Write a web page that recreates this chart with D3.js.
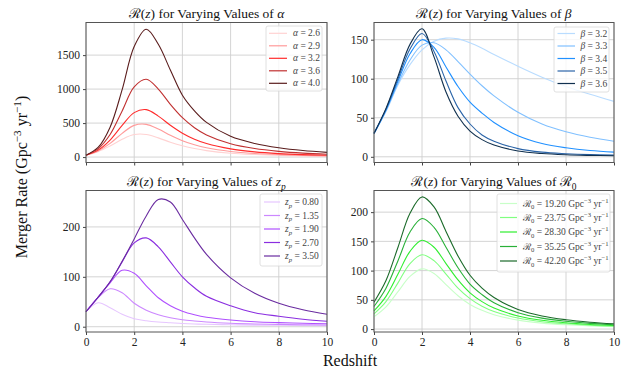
<!DOCTYPE html>
<html>
<head>
<meta charset="utf-8">
<script src="https://cdn.jsdelivr.net/npm/d3@7"></script>
<style>
  body { margin: 0; background: #fff; }
</style>
</head>
<body>
<svg id="chart" width="634" height="372"></svg>
<script>
// redshift grid the values were read at
const redshift = [0, 0.5, 1, 1.5, 2, 2.5, 3, 3.5, 4, 4.5, 5, 6, 7, 8, 9, 10];
const zTicks = [0, 2, 4, 6, 8, 10];

// panel 1: varying alpha
const alphaLabels = ["2.6", "2.9", "3.2", "3.6", "4.0"];
const alphaRates = [
  [28, 80, 163, 262, 331, 332, 282, 219, 166, 125, 95, 57, 37, 24, 17, 12],
  [28, 90, 202, 349, 466, 481, 412, 321, 241, 181, 137, 83, 53, 36, 25, 18],
  [28, 102, 250, 465, 654, 698, 602, 468, 351, 263, 199, 120, 76, 51, 36, 26],
  [28, 120, 331, 679, 1032, 1144, 1000, 775, 579, 432, 326, 196, 125, 84, 58, 42],
  [28, 141, 440, 992, 1626, 1880, 1659, 1281, 910, 680, 510, 305, 200, 137, 96, 69]
];
const alphaTicks = [0, 500, 1000, 1500];

// panel 2: varying beta
const betaLabels = ["3.2", "3.3", "3.4", "3.5", "3.6"];
const betaRates = [
  [30, 58, 92, 118, 137, 148, 152, 151, 146, 139, 131, 116, 102, 90, 80, 71],
  [30, 59, 94, 124, 143, 146, 137, 122, 106, 91, 78, 57, 42, 32, 25, 20],
  [30, 60, 97, 132, 150, 140, 115, 90, 70, 56, 44, 27, 17, 11.5, 8, 6],
  [30, 61, 100, 138, 158, 135, 97, 63, 42, 28, 20, 10.5, 6, 4, 2.8, 2.2],
  [30, 62, 103, 144, 164, 128, 83, 52, 33, 22, 15, 7.5, 4.2, 2.6, 1.8, 1.3]
];
const betaTicks = [0, 50, 100, 150];

// panel 3: varying z_p
const zpLabels = ["0.80", "1.35", "1.90", "2.70", "3.50"];
const zpRates = [
  [30, 48, 38, 25, 16, 12, 9.5, 8, 6.5, 5.5, 4.8, 3.8, 3.2, 2.8, 2.5, 2.2],
  [30, 58, 76, 68, 47, 33, 24, 18, 14, 11.5, 9.5, 7, 5.5, 4.6, 4, 3.5],
  [30, 59, 88, 113, 107, 82, 58, 42, 31, 24, 19, 13.5, 10, 8.2, 7, 6],
  [30, 59, 90, 130, 168, 178, 160, 130, 100, 78, 61, 42, 28, 21, 15, 11],
  [30, 59, 90, 131, 176, 222, 255, 250, 215, 178, 145, 98, 67, 47, 34, 25]
];
const zpTicks = [0, 100, 200];

// panel 4: varying R0
const r0Labels = ["19.20", "23.75", "28.30", "35.25", "42.20"];
const r0Rates = [
  [21, 38, 64, 90, 103, 95, 76, 57, 42, 32, 24.4, 15.3, 10.2, 7.3, 5.4, 4.1],
  [26, 47, 79, 112, 127, 117, 94, 70, 52, 39, 30, 18.9, 12.6, 9, 6.6, 5],
  [31, 56, 94, 133, 152, 140, 112, 84, 62, 47, 36, 22.5, 15, 10.7, 7.9, 6],
  [38.6, 70, 117, 166, 189, 174, 140, 105, 77, 59, 45, 28, 18.7, 13.3, 9.8, 7.5],
  [46, 83, 140, 198, 226, 209, 167, 125, 92, 70, 54, 33.5, 22.4, 16, 11.8, 9]
];
const r0Ticks = [0, 50, 100, 150, 200];

const reds = ["#ffd2d2", "#ff9a9a", "#ff2b2b", "#c03030", "#5a1c1c"];
const blues = ["#b9dcff", "#80c0ff", "#2090ff", "#2a64a8", "#10304f"];
const purples = ["#e6c6ff", "#cc88ff", "#b050ff", "#8a2ee0", "#6a2ca0"];
const greens = ["#c8ffc8", "#80ff80", "#30ee30", "#28b038", "#1b6a2a"];

const SERIF = "'Liberation Serif', 'Times New Roman', 'DejaVu Serif', serif";

const svg = d3.select("#chart");

// text with italic / sub / superscript pieces
function rich(text, segs, fs) {
  let shift = 0;
  segs.forEach(s => {
    const target = s.sub ? 0.3 * fs : s.sup ? -0.4 * fs : 0;
    const ts = text.append("tspan").text(s.t);
    if (target !== shift) ts.attr("dy", target - shift);
    shift = target;
    if (s.i) ts.style("font-style", "italic");
    if (s.sub || s.sup) ts.style("font-size", (fs * 0.7) + "px");
  });
}

function serifText(sel, fs) {
  return sel.style("font-family", SERIF).style("font-size", fs + "px");
}

const titleStart = [{t: "ℛ"}, {t: "("}, {t: "z", i: 1}, {t: ") for Varying Values of "}];

const panels = [
  {x: [86, 327], y: [22.5, 162.5], yDomain: [-80, 1980], yTicks: alphaTicks, rates: alphaRates,
   colors: reds, xLabels: false,
   title: titleStart.concat([{t: "α", i: 1}]),
   legend: {x: 266, y: 26, w: 56, h: 65, rows: [33.3, 45.8, 58.3, 70.8, 83.3], lx: [269, 287], tx: 293},
   label: v => [{t: "α", i: 1}, {t: " = " + v}], names: alphaLabels},
  {x: [374, 614], y: [22.5, 162.5], yDomain: [-7.3, 172], yTicks: betaTicks, rates: betaRates,
   colors: blues, xLabels: false,
   title: titleStart.concat([{t: "β", i: 1}]),
   legend: {x: 554, y: 27, w: 55, h: 65, rows: [33.5, 46, 58.5, 71, 83.5], lx: [557.5, 575], tx: 580.5},
   label: v => [{t: "β", i: 1}, {t: " = " + v}], names: betaLabels},
  {x: [86, 327], y: [190.5, 332], yDomain: [-10.6, 273], yTicks: zpTicks, rates: zpRates,
   colors: purples, xLabels: true,
   title: titleStart.concat([{t: "z", i: 1}, {t: "p", i: 1, sub: 1}]),
   legend: {x: 260, y: 194, w: 62, h: 72, rows: [202, 215.5, 229, 242.5, 256], lx: [264, 280], tx: 285},
   label: v => [{t: "z", i: 1}, {t: "p", i: 1, sub: 1}, {t: " = " + v}], names: zpLabels},
  {x: [374, 614], y: [190.5, 332], yDomain: [-5, 237], yTicks: r0Ticks, rates: r0Rates,
   colors: greens, xLabels: true,
   title: titleStart.concat([{t: "ℛ"}, {t: "0", sub: 1}]),
   legend: {x: 497, y: 194, w: 113, h: 78, rows: [203.5, 217.5, 232, 246.5, 261], lx: [500, 517], tx: 523},
   label: v => [{t: "ℛ"}, {t: "0", sub: 1}, {t: " = " + v + " Gpc"}, {t: "−3", sup: 1}, {t: " yr"}, {t: "−1", sup: 1}],
   names: r0Labels}
];

panels.forEach(p => {
  const sx = d3.scaleLinear().domain([0, 10]).range(p.x);
  const sy = d3.scaleLinear().domain(p.yDomain).range([p.y[1], p.y[0]]);
  const g = svg.append("g");

  // grid
  g.selectAll(".gx").data(zTicks).enter().append("line")
    .attr("x1", d => sx(d)).attr("x2", d => sx(d))
    .attr("y1", p.y[0]).attr("y2", p.y[1])
    .attr("stroke", "#cfcfcf").attr("stroke-width", 0.9);
  g.selectAll(".gy").data(p.yTicks).enter().append("line")
    .attr("x1", p.x[0]).attr("x2", p.x[1])
    .attr("y1", d => sy(d)).attr("y2", d => sy(d))
    .attr("stroke", "#cfcfcf").attr("stroke-width", 0.9);

  // axes
  const yAxis = d3.axisLeft(sy).tickValues(p.yTicks).tickSize(3).tickPadding(3).tickFormat(d3.format("d"));
  const yg = g.append("g").attr("transform", "translate(" + p.x[0] + ",0)").call(yAxis);
  const xAxis = d3.axisBottom(sx).tickValues(zTicks).tickSize(3).tickPadding(3)
    .tickFormat(p.xLabels ? d3.format("d") : "");
  const xg = g.append("g").attr("transform", "translate(0," + p.y[1] + ")").call(xAxis);
  [yg, xg].forEach(a => {
    a.attr("font-family", null).attr("font-size", null);
    a.select(".domain").remove();
    a.selectAll("line").attr("stroke", "#444");
    serifText(a.selectAll("text"), 11.5).attr("fill", "#222");
  });

  // curves
  const line = d3.line()
    .x((d, i) => sx(redshift[i]))
    .y(d => sy(d))
    .curve(d3.curveCatmullRom.alpha(0.5));
  g.selectAll(".curve").data(p.rates).enter().append("path")
    .attr("d", line)
    .attr("fill", "none")
    .attr("stroke", (d, i) => p.colors[i])
    .attr("stroke-width", 1.1);

  // frame
  g.append("rect")
    .attr("x", p.x[0]).attr("y", p.y[0])
    .attr("width", p.x[1] - p.x[0]).attr("height", p.y[1] - p.y[0])
    .attr("fill", "none").attr("stroke", "#555").attr("stroke-width", 1);

  // title
  const t = serifText(g.append("text"), 13.5)
    .attr("x", (p.x[0] + p.x[1]) / 2).attr("y", p.y[0] - 4.5)
    .attr("text-anchor", "middle").attr("fill", "#111");
  rich(t, p.title, 13.5);

  // legend
  const L = p.legend;
  g.append("rect").attr("x", L.x).attr("y", L.y).attr("width", L.w).attr("height", L.h)
    .attr("rx", 2).attr("fill", "#fff").attr("fill-opacity", 0.8)
    .attr("stroke", "#d8d8d8").attr("stroke-width", 0.8);
  p.names.forEach((n, i) => {
    g.append("line").attr("x1", L.lx[0]).attr("x2", L.lx[1])
      .attr("y1", L.rows[i]).attr("y2", L.rows[i])
      .attr("stroke", p.colors[i]).attr("stroke-width", 1.2);
    const lt = serifText(g.append("text"), 9.5).attr("x", L.tx).attr("y", L.rows[i] + 3)
      .attr("fill", "#444");
    rich(lt, p.label(n), 9.5);
  });
});

// shared axis labels
const yl = serifText(svg.append("text"), 16)
  .attr("transform", "translate(27,177) rotate(-90)")
  .attr("text-anchor", "middle").attr("fill", "#111");
rich(yl, [{t: "Merger Rate (Gpc"}, {t: "−3", sup: 1}, {t: " yr"}, {t: "−1", sup: 1}, {t: ")"}], 16);

serifText(svg.append("text"), 16)
  .attr("x", 350).attr("y", 366)
  .attr("text-anchor", "middle").attr("fill", "#111")
  .text("Redshift");
</script>
</body>
</html>
